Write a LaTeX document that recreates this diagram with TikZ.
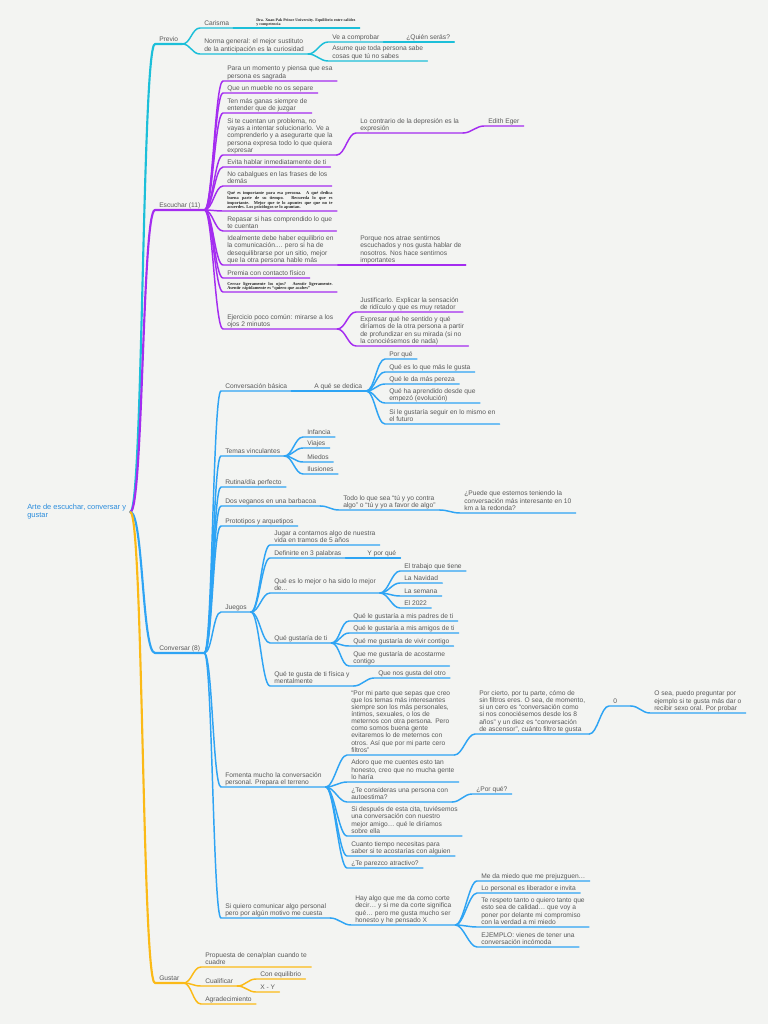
\documentclass[tikz,border=0pt]{standalone}
\usepackage{fontspec}
\setmainfont{Liberation Sans}
\newfontfamily\tinyserif{Liberation Serif}
\definecolor{bgc}{HTML}{F3F4F2}
\definecolor{txt}{HTML}{595959}
\definecolor{cyanb}{HTML}{1CBFD9}
\definecolor{purpb}{HTML}{A42CF0}
\definecolor{blueb}{HTML}{2EA4F4}
\definecolor{yelb}{HTML}{FBBA17}
\definecolor{rootc}{HTML}{2A8CDC}
\begin{document}
\begin{tikzpicture}[x=0.75pt, y=-0.75pt,
  topic/.style={anchor=south west, align=left, inner xsep=3pt, inner ysep=0.7pt,
    text depth=1.3pt, text=txt, font=\fontsize{5}{5.3}\selectfont},
  fine/.style={anchor=south west, inner xsep=3pt, inner ysep=0.7pt, text depth=0.9pt,
    text=black!85, font=\tinyserif\bfseries\fontsize{3.3}{3.45}\selectfont},
  link/.style={to path={.. controls +(#1,0) and +(-#1,0) .. (\tikztotarget)}},
  link/.default=8,
  br/.style={draw=#1, line width=1.1pt, line cap=round, line join=round},
  trunk/.style={draw=#1, line width=1.6pt, line cap=round, line join=round}]
\fill[bgc] (0,0) rectangle (768,1024);
\useasboundingbox (0,0) rectangle (768,1024);

\node[anchor=west, align=left, inner sep=3pt, text=rootc, font=\fontsize{5.6}{6}\selectfont]
  (root) at (23,512) {Arte de escuchar, conversar y\\gustar};

% Previo
\node[topic] (pre) at (155,44) {Previo};
\node[topic] (car) at (200,28) {Carisma};
\node[fine, align=left, font=\tinyserif\bfseries\fontsize{3}{3.1}\selectfont, text depth=0.8pt] (dra) at (252,28)
  {Dra. Xuan Pak Prince University. Equilibrio entre calidez\\y competencia};
\node[topic] (nor) at (200,54) {Norma general: el mejor sustituto\\de la anticipación es la curiosidad};
\node[topic] (vea) at (328,42) {Ve a comprobar};
\node[topic] (qui) at (402,42) {¿Quién serás?};
\node[topic] (asu) at (328,61) {Asume que toda persona sabe\\cosas que tú no sabes};

% Escuchar
\node[topic] (esc) at (155,210) {Escuchar (11)};
\node[topic] (e1) at (223,81) {Para un momento y piensa que esa\\persona es sagrada};
\node[topic] (e2) at (223,93) {Que un mueble no os separe};
\node[topic] (e3) at (223,113) {Ten más ganas siempre de\\entender que de juzgar};
\node[topic] (e4) at (223,155) {Si te cuentan un problema, no\\vayas a intentar solucionarlo. Ve a\\comprenderlo y a asegurarte que la\\persona expresa todo lo que quiera\\expresar};
\node[topic] (e4a) at (356,133) {Lo contrario de la depresión es la\\expresión};
\node[topic] (e4b) at (484,126) {Edith Eger};
\node[topic] (e5) at (223,167) {Evita hablar inmediatamente de ti};
\node[topic] (e6) at (223,186) {No cabalgues en las frases de los\\demás};
\node[fine] (e7) at (223,211)
  {\parbox[b]{79pt}{Qué es importante para esa persona. A qué dedica\linebreak buena parte de su tiempo. Recuerda lo que es\linebreak importante. Mejor que te lo apuntes que que no te\linebreak acuerdes. Los psicólogos se lo apuntan.}};
\node[topic] (e8) at (223,231) {Repasar si has comprendido lo que\\te cuentan};
\node[topic] (e9) at (223,265) {Idealmente debe haber equilibrio en\\la comunicación.... pero si ha de\\desequilibrarse por un sitio, mejor\\que la otra persona hable más};
\node[topic] (e9a) at (356,265) {Porque nos atrae sentirnos\\escuchados y nos gusta hablar de\\nosotros. Nos hace sentirnos\\importantes};
\node[topic] (e10) at (223,278) {Premia con contacto físico};
\node[fine] (e11) at (223,292)
  {\parbox[b]{79pt}{Cerrar ligeramente los ojos? Asentir ligeramente.\linebreak Asentir rápidamente es “quiero que acabes”}};
\node[topic] (e12) at (223,329) {Ejercicio poco común: mirarse a los\\ojos 2 minutos};
\node[topic] (e12a) at (356,312) {Justificarlo. Explicar la sensación\\de ridículo y que es muy retador};
\node[topic] (e12b) at (356,346) {Expresar qué he sentido y qué\\diríamos de la otra persona a partir\\de profundizar en su mirada (si no\\la conociésemos de nada)};

% Conversar
\node[topic] (con) at (155,653) {Conversar (8)};
\node[topic] (c1) at (221,391) {Conversación básica};
\node[topic] (c1a) at (310,391) {A qué se dedica};
\node[topic] (c1a1) at (385,359) {Por qué};
\node[topic] (c1a2) at (385,372) {Qué es lo que más le gusta};
\node[topic] (c1a3) at (385,384) {Qué le da más pereza};
\node[topic] (c1a4) at (385,403) {Qué ha aprendido desde que\\empezó (evolución)};
\node[topic] (c1a5) at (385,424) {Si le gustaría seguir en lo mismo en\\el futuro};
\node[topic] (c2) at (221,456) {Temas vinculantes};
\node[topic] (c2a) at (303,437) {Infancia};
\node[topic] (c2b) at (303,448) {Viajes};
\node[topic] (c2c) at (303,462) {Miedos};
\node[topic] (c2d) at (303,474) {Ilusiones};
\node[topic] (c3) at (221,487) {Rutina/día perfecto};
\node[topic] (c4) at (221,506) {Dos veganos en una barbacoa};
\node[topic] (c4a) at (339,510) {Todo lo que sea “tú y yo contra\\algo” o “tú y yo a favor de algo”};
\node[topic] (c4b) at (460,513) {¿Puede que estemos teniendo la\\conversación más interesante en 10\\km a la redonda?};
\node[topic] (c5) at (221,526) {Prototipos y arquetipos};
\node[topic] (c6) at (221,612) {Juegos};
\node[topic] (c6a) at (270,545) {Jugar a contarnos algo de nuestra\\vida en tramos de 5 años};
\node[topic] (c6b) at (270,558) {Definirte en 3 palabras};
\node[topic] (c6b1) at (363,558) {Y por qué};
\node[topic] (c6c) at (270,593) {Qué es lo mejor o ha sido lo mejor\\de...};
\node[topic] (c6c1) at (400,571) {El trabajo que tiene};
\node[topic] (c6c2) at (400,583) {La Navidad};
\node[topic] (c6c3) at (400,596) {La semana};
\node[topic] (c6c4) at (400,608) {El 2022};
\node[topic] (c6d) at (270,643) {Qué gustaría de ti};
\node[topic] (c6d1) at (349,621) {Qué le gustaría a mis padres de ti};
\node[topic] (c6d2) at (349,633) {Qué le gustaría a mis amigos de ti};
\node[topic] (c6d3) at (349,646) {Qué me gustaría de vivir contigo};
\node[topic] (c6d4) at (349,666) {Que me gustaría de acostarme\\contigo};
\node[topic] (c6e) at (270,686) {Qué te gusta de ti física y\\mentalmente};
\node[topic] (c6e1) at (374,678) {Que nos gusta del otro};
\node[topic] (c7) at (221,787) {Fomenta mucho la conversación\\personal. Prepara el terreno};
\node[topic] (c7a) at (347,755) {“Por mi parte que sepas que creo\\que los temas más interesantes\\siempre son los más personales,\\íntimos, sexuales, o los de\\meternos con otra persona. Pero\\como somos buena gente\\evitaremos lo de meternos con\\otros. Así que por mi parte cero\\filtros”};
\node[topic] (c7a1) at (475,734) {Por cierto, por tu parte, cómo de\\sin filtros eres. O sea, de momento,\\si un cero es “conversación como\\si nos conociésemos desde los 8\\años” y un diez es “conversación\\de ascensor”, cuánto filtro te gusta};
\node[topic, text width=10pt] (c7a2) at (609,706) {0};
\node[topic] (c7a3) at (650,713) {O sea, puedo preguntar por\\ejemplo si te gusta más dar o\\recibir sexo oral. Por probar};
\node[topic] (c7b) at (347,782) {Adoro que me cuentes esto tan\\honesto, creo que no mucha gente\\lo haría};
\node[topic] (c7c) at (347,802) {¿Te consideras una persona con\\autoestima?};
\node[topic] (c7c1) at (472,794) {¿Por qué?};
\node[topic] (c7d) at (347,836) {Si después de esta cita, tuviésemos\\una conversación con nuestro\\mejor amigo… qué le diríamos\\sobre ella};
\node[topic] (c7e) at (347,856) {Cuanto tiempo necesitas para\\saber si te acostarías con alguien};
\node[topic] (c7f) at (347,868) {¿Te parezco atractivo?};
\node[topic] (c8) at (221,918) {Si quiero comunicar algo personal\\pero por algún motivo me cuesta};
\node[topic] (c8a) at (351,925) {Hay algo que me da como corte\\decir… y si me da corte significa\\qué… pero me gusta mucho ser\\honesto y he pensado X};
\node[topic] (c8a1) at (477,881) {Me da miedo que me prejuzguen…};
\node[topic] (c8a2) at (477,893) {Lo personal es liberador e invita};
\node[topic] (c8a3) at (477,927) {Te respeto tanto o quiero tanto que\\esto sea de calidad… que voy a\\poner por delante mi compromiso\\con la verdad a mi miedo};
\node[topic] (c8a4) at (477,947) {EJEMPLO: vienes de tener una\\conversación incómoda};

% Gustar
\node[topic] (gus) at (155,983) {Gustar};
\node[topic] (g1) at (201,967) {Propuesta de cena/plan cuando te\\cuadre};
\node[topic] (g2) at (201,986) {Cualificar};
\node[topic] (g2a) at (256,979) {Con equilibrio};
\node[topic] (g2b) at (256,992) {X - Y};
\node[topic] (g3) at (201,1004) {Agradecimiento};

% branches
\foreach \m/\c in {pre/cyanb, esc/purpb, con/blueb, gus/yelb}
  \draw[trunk=\c] (root.east) to[link=13] (\m.south west) -- (\m.south east);
\foreach \a/\b in {pre/car, pre/nor, car/dra, nor/vea, nor/asu, vea/qui}
  \draw[br=cyanb] (\a.south east) to[link] (\b.south west) -- (\b.south east);
\foreach \a/\b in {esc/e1, esc/e2, esc/e3, esc/e4, esc/e5, esc/e6, esc/e7, esc/e8,
    esc/e9, esc/e10, esc/e11, esc/e12, e4/e4a, e4a/e4b, e9/e9a, e12/e12a, e12/e12b}
  \draw[br=purpb] (\a.south east) to[link] (\b.south west) -- (\b.south east);
\foreach \a/\b in {con/c1, con/c2, con/c3, con/c4, con/c5, con/c6, con/c7, con/c8,
    c1/c1a, c1a/c1a1, c1a/c1a2, c1a/c1a3, c1a/c1a4, c1a/c1a5,
    c2/c2a, c2/c2b, c2/c2c, c2/c2d, c4/c4a, c4a/c4b,
    c6/c6a, c6/c6b, c6/c6c, c6/c6d, c6/c6e, c6b/c6b1,
    c6c/c6c1, c6c/c6c2, c6c/c6c3, c6c/c6c4,
    c6d/c6d1, c6d/c6d2, c6d/c6d3, c6d/c6d4, c6e/c6e1,
    c7/c7a, c7/c7b, c7/c7c, c7/c7d, c7/c7e, c7/c7f, c7a/c7a1, c7a1/c7a2, c7a2/c7a3, c7c/c7c1,
    c8/c8a, c8a/c8a1, c8a/c8a2, c8a/c8a3, c8a/c8a4}
  \draw[br=blueb] (\a.south east) to[link] (\b.south west) -- (\b.south east);
\foreach \a/\b in {gus/g1, gus/g2, gus/g3, g2/g2a, g2/g2b}
  \draw[br=yelb] (\a.south east) to[link] (\b.south west) -- (\b.south east);
\end{tikzpicture}
\end{document}
